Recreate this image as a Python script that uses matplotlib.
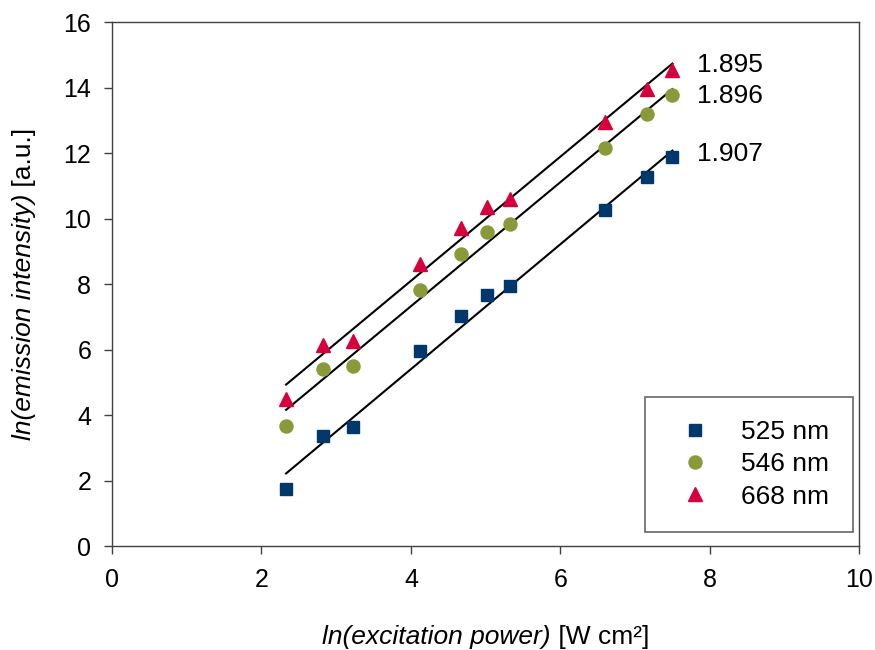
import matplotlib.pyplot as plt
import numpy as np

plt.rcParams['font.family'] = ['Liberation Sans', 'DejaVu Sans']

# data
x_power = [2.33, 2.82, 3.23, 4.12, 4.67, 5.02, 5.33, 6.60, 7.16, 7.50]
y_525 = [1.75, 3.35, 3.62, 5.95, 7.03, 7.68, 7.95, 10.27, 11.28, 11.87]
y_546 = [3.68, 5.40, 5.50, 7.83, 8.92, 9.58, 9.83, 12.17, 13.18, 13.76]
y_668 = [4.50, 6.15, 6.25, 8.60, 9.70, 10.35, 10.60, 12.95, 13.97, 14.55]
series_names = ['525 nm', '546 nm', '668 nm']
slope_labels = ['1.907', '1.896', '1.895']

colors = ['#00386B', '#8A9A3A', '#D6003C']
markers = ['s', 'o', '^']
msizes = [8.6, 9.4, 9.4]
label_dy = [-0.1, -0.22, -0.05]
frame_col = '#404040'

fig = plt.figure(figsize=(8.75, 6.5), dpi=100)
ax = fig.add_axes([0.128, 0.16, 0.854, 0.806])

x = np.array(x_power)
handles = []
for ys, name, c, m, ms, lab, dy in zip([y_525, y_546, y_668], series_names, colors,
                                       markers, msizes, slope_labels, label_dy):
    ys = np.array(ys)
    h, = ax.plot(x, ys, linestyle='none', marker=m, color=c, markersize=ms,
                 markeredgecolor=c, label=name, zorder=3)
    handles.append(h)
    # linear fit drawn over the measured range
    k, b = np.polyfit(x, ys, 1)
    xf = np.array([x.min(), x.max()])
    ax.plot(xf, k * xf + b, color='black', lw=1.5, zorder=2)
    ax.text(7.83, k * x.max() + b + dy, lab, fontsize=19, va='center', ha='left')

ax.set_xlim(0, 10)
ax.set_ylim(0, 16)
ax.set_xticks(np.arange(0, 11, 2))
ax.set_yticks(np.arange(0, 17, 2))
for s in ax.spines.values():
    s.set_color(frame_col)
    s.set_linewidth(1.0)
ax.tick_params(direction='out', length=6, width=1.0, color=frame_col,
               labelsize=18)
ax.tick_params(axis='x', pad=10)
ax.tick_params(axis='y', pad=9)

# axis titles: italic part followed by an upright part
xl1 = fig.text(0.3, 0.0, 'ln(excitation power)', style='italic', fontsize=19,
               ha='left', va='bottom')
xl2 = ax.annotate(' [W cm\u00b2]', xy=(1, 0), xycoords=xl1, fontsize=19,
                  ha='left', va='bottom')
yl1 = fig.text(0.0, 0.3, 'ln(emission intensity)', style='italic', fontsize=19,
               rotation=90, ha='left', va='bottom')
yl2 = ax.annotate(' [a.u.]', xy=(0, 1), xycoords=yl1, fontsize=19,
                  rotation=90, ha='left', va='bottom')

fig.canvas.draw()
r = fig.canvas.get_renderer()
W, H = fig.bbox.width, fig.bbox.height
axbb = ax.get_window_extent(r)
b1, b2 = xl1.get_window_extent(r), xl2.get_window_extent(r)
tot_w = b2.x1 - b1.x0
xl1.set_position(((axbb.x0 + axbb.width / 2 - tot_w / 2) / W, 1 / H))
b1, b2 = yl1.get_window_extent(r), yl2.get_window_extent(r)
tot_h = b2.y1 - b1.y0
yl1.set_position((12 / W, (axbb.y0 + axbb.height / 2 - tot_h / 2) / H))

leg = ax.legend(handles=handles, loc='lower right', bbox_to_anchor=(0.991, 0.026),
                fontsize=19, frameon=True, fancybox=False, edgecolor=frame_col,
                borderpad=0.9, labelspacing=0.31, handletextpad=0.72,
                handlelength=2.0, borderaxespad=0)
leg.get_frame().set_linewidth(1.2)

plt.savefig('out.png')
